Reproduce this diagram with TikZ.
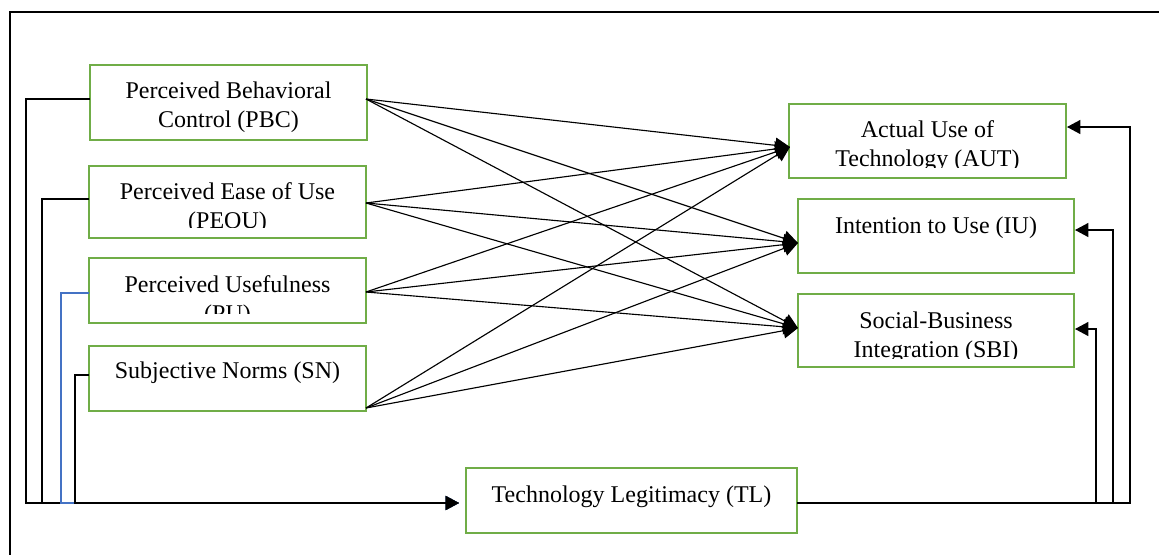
\documentclass[tikz,border=0pt]{standalone}
\usepackage{fontspec}
\setmainfont{Liberation Serif}
\usetikzlibrary{arrows.meta,fit}
\definecolor{boxgreen}{HTML}{70AD47}
\definecolor{lineblue}{HTML}{4472C4}
\begin{document}
\begin{tikzpicture}[x=0.75pt,y=-0.75pt,
  box/.style={draw=boxgreen, line width=1.6pt, inner sep=0pt},
  lbl/.style={font=\fontsize{18}{21.75}\selectfont, align=center, inner sep=0pt, anchor=base},
  conn/.style={line width=0.85pt, draw=black},
  bigtip/.style={-{Triangle[length=11pt,width=11.5pt]}},
  sidetip/.style={-{Triangle[length=10pt,width=10.5pt]}}]
\useasboundingbox (0,0) rectangle (1159,554);
% frame
\draw[line width=2pt] (10,560) -- (10,12) -- (1170,12);

% boxes
\node[box, fit={(90,65)(367,140)}] (pbc) {};
\node[box, fit={(89,166)(366,238)}] (peou) {};
\node[box, fit={(89,258)(366,323)}] (pu) {};
\node[box, fit={(89,346)(366,411)}] (sn) {};
\node[box, fit={(789,104)(1066,178)}] (aut) {};
\node[box, fit={(798,199)(1074,273)}] (iu) {};
\node[box, fit={(798,294)(1074,367)}] (sbi) {};
\node[box, fit={(466,468)(797,533)}] (tl) {};

% labels (base anchor = baseline of last line)
\node[lbl] (pbct) at (228.5,127) {Perceived Behavioral\\Control (PBC)};
\begin{scope}
  \clip (89,166) rectangle (366,227);
  \node[lbl] (peout) at (227.5,228) {Perceived Ease of Use\\(PEOU)};
\end{scope}
\begin{scope}
  \clip (89,258) rectangle (366,313);
  \node[lbl] (put) at (227.5,321) {Perceived Usefulness\\(PU)};
\end{scope}
\node[lbl] (snt) at (227.5,378) {Subjective Norms (SN)};
\begin{scope}
  \clip (789,104) rectangle (1066,167);
  \node[lbl] (autt) at (927.5,166) {Actual Use of\\Technology (AUT)};
\end{scope}
\node[lbl] (iut) at (936,233) {Intention to Use (IU)};
\begin{scope}
  \clip (798,294) rectangle (1074,358);
  \node[lbl] (sbit) at (936,357) {Social-Business\\Integration (SBI)};
\end{scope}
\node[lbl] (tlt) at (631.5,502) {Technology Legitimacy (TL)};

% ports
\coordinate (pbcR) at (366,99);
\coordinate (peouR) at (366,203);
\coordinate (puR) at (366,292);
\coordinate (snR) at (366,408);
\coordinate (autL) at (790,147);
\coordinate (iuL) at (798,243);
\coordinate (sbiL) at (798,328);

% cross arrows
\foreach \s in {pbcR,peouR,puR,snR}
  \foreach \t in {autL,iuL,sbiL}
    \draw[conn,bigtip] (\s) -- (\t);

% left connectors into TL
\coordinate (tlin) at (459,503);
\coordinate (pbcL) at (90,99);
\coordinate (peouL) at (89,199);
\coordinate (puL) at (89,293);
\coordinate (snL) at (89,375);
\draw[conn,sidetip] (pbcL) -- (26,99) -- (26,503) -- (tlin);
\draw[conn,sidetip] (peouL) -- (42,199) -- (42,503) -- (tlin);
\draw[conn,draw=lineblue,sidetip] (puL) -- (61,293) -- (61,503) -- (tlin);
\draw[conn,sidetip] (snL) -- (75,375) -- (75,503) -- (tlin);

% right connectors from TL
\coordinate (tlR) at (797,503);
\coordinate (autR) at (1067,127);
\coordinate (iuR) at (1075,230);
\coordinate (sbiR) at (1075,329);
\draw[conn,sidetip] (tlR) -- (1130,503) -- (1130,127) -- (autR);
\draw[conn,sidetip] (tlR) -- (1113,503) -- (1113,230) -- (iuR);
\draw[conn,sidetip] (tlR) -- (1096,503) -- (1096,329) -- (sbiR);
\end{tikzpicture}
\end{document}
